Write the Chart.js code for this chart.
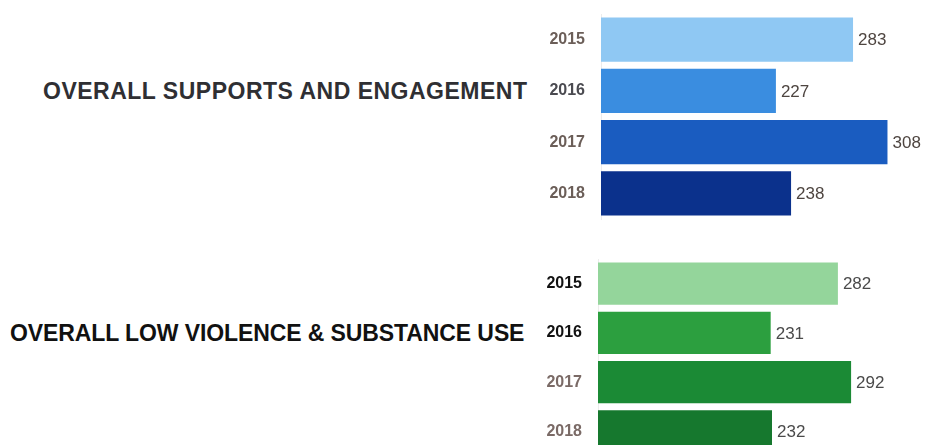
<!DOCTYPE html>
<html>
<head>
<meta charset="utf-8">
<script src="https://cdn.jsdelivr.net/npm/chart.js@4.4.0/dist/chart.umd.min.js"></script>
<style>
    html, body { margin: 0; padding: 0; background: #fff; overflow: hidden; }
    body { width: 926px; height: 445px; position: relative; font-family: 'Liberation Sans', Arial, sans-serif; }
    .group-title { position: absolute; font-weight: bold; font-size: 23px; white-space: nowrap; line-height: 26px; }
    #titleTop { left: 43px; top: 78px; color: #2f2f33; letter-spacing: 0.5px; }
    #titleBottom { left: 10px; top: 320px; color: #111; letter-spacing: -0.1px; }
    canvas { position: absolute; }
    #chartTop { left: 540px; top: 0; }
    #chartBottom { left: 537px; top: 245px; }
</style>
</head>
<body>

<div class="group-title" id="titleTop">OVERALL SUPPORTS AND ENGAGEMENT</div>
<div class="group-title" id="titleBottom">OVERALL LOW VIOLENCE &amp; SUBSTANCE USE</div>

<canvas id="chartTop" width="386" height="232"></canvas>
<canvas id="chartBottom" width="389" height="215"></canvas>

<script>
// Data
const years = ['2015', '2016', '2017', '2018'];
const supportsValues = [283, 227, 308, 238];
const violenceValues = [282, 231, 292, 232];

const supportsColors = ['#8fc8f3', '#3a8de0', '#1a5cc0', '#0b318c'];
const violenceColors = ['#94d59b', '#2c9f3f', '#1b8a35', '#16782e'];

const topYearColors = ['#6b5e58', '#4a4a50', '#6b5e58', '#6b5e58'];
const bottomYearColors = ['#111111', '#111111', '#7a6a66', '#7a6a66'];

// Draws value labels at the end of each bar
const valueLabels = {
    id: 'valueLabels',
    afterDatasetsDraw(chart, args, opts) {
        const ctx = chart.ctx;
        const meta = chart.getDatasetMeta(0);
        ctx.save();
        ctx.font = '17px "Liberation Sans", Arial, sans-serif';
        ctx.fillStyle = opts.color || '#444';
        ctx.textBaseline = 'middle';
        ctx.textAlign = 'left';
        meta.data.forEach((bar, i) => {
            const v = chart.data.datasets[0].data[i];
            ctx.fillText(v, bar.x + 5, bar.y + 1);
        });
        ctx.restore();
    }
};

function makeChart(canvasId, values, colors, yearColors, padding, labelColor) {
    const ctx = document.getElementById(canvasId).getContext('2d');
    return new Chart(ctx, {
        type: 'bar',
        data: {
            labels: years,
            datasets: [{
                data: values,
                backgroundColor: colors,
                borderWidth: 0,
                categoryPercentage: 1,
                barPercentage: 0.86
            }]
        },
        options: {
            indexAxis: 'y',
            responsive: false,
            animation: false,
            devicePixelRatio: 1,
            layout: { padding: padding },
            plugins: {
                legend: { display: false },
                tooltip: { enabled: false },
                valueLabels: { color: labelColor }
            },
            scales: {
                x: {
                    display: false,
                    min: 100,
                    max: 320
                },
                y: {
                    // fixed axis width, no extra label padding above/below
                    afterFit: (scale) => {
                        scale.width = 61;
                        scale.paddingTop = 0;
                        scale.paddingBottom = 0;
                    },
                    grid: { display: false, drawTicks: false },
                    border: { display: true, color: '#ececec', width: 1 },
                    ticks: {
                        padding: 16,
                        color: (c) => yearColors[c.index],
                        font: { family: '"Liberation Sans", Arial, sans-serif', size: 16, weight: 'bold' }
                    }
                }
            }
        },
        plugins: [valueLabels]
    });
}

makeChart('chartTop', supportsValues, supportsColors, topYearColors,
    { top: 14, bottom: 13, left: 0, right: 22 }, '#4e4540');
makeChart('chartBottom', violenceValues, violenceColors, bottomYearColors,
    { top: 14, bottom: 4, left: 0, right: 38 }, '#4a4a4a');
</script>
</body>
</html>
